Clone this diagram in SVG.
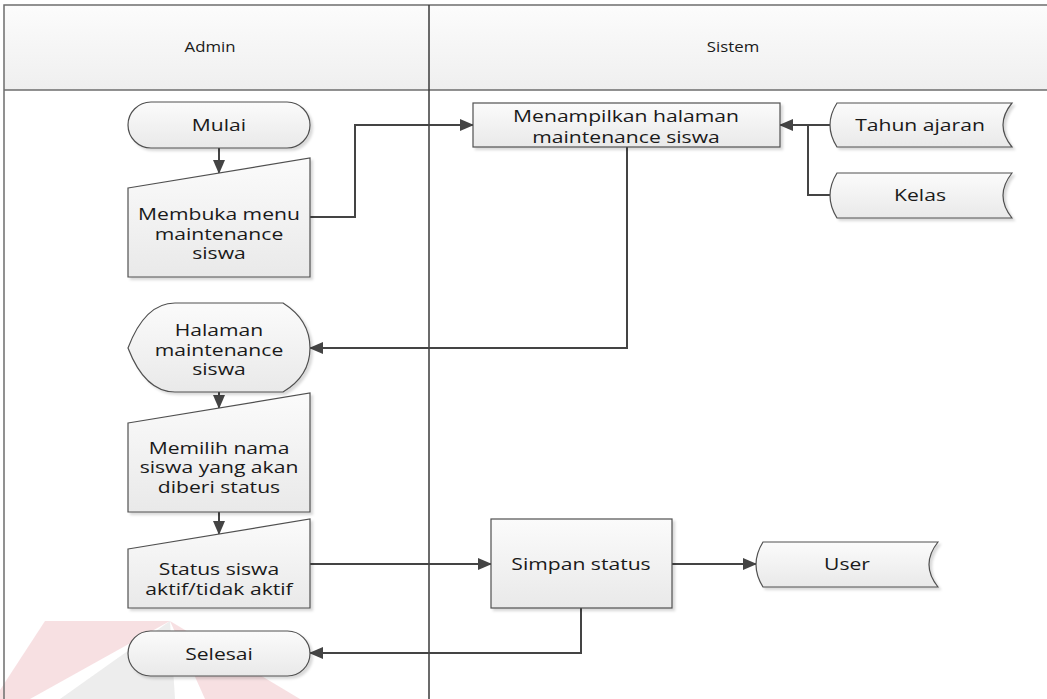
<svg xmlns="http://www.w3.org/2000/svg" width="1047" height="699" viewBox="0 0 1047 699">
<style>
.lane{fill:none;stroke:#6e6e6e;stroke-width:1.5}
.div{stroke:#3a3a3a;stroke-width:1.5}
.shape{fill:url(#g);stroke:#505050;stroke-width:1.2;filter:url(#sh)}
.t{font-family:"Open Sans","Noto Sans",sans-serif;font-size:16.5px;fill:#1a1a1a;text-anchor:middle}
.h{font-family:"Open Sans","Noto Sans",sans-serif;font-size:15px;fill:#1a1a1a;text-anchor:middle}
.c{fill:none;stroke:#444;stroke-width:2}
</style>
<defs>
<linearGradient id="g" x1="0" y1="0" x2="0" y2="1">
<stop offset="0" stop-color="#fbfbfb"/>
<stop offset="1" stop-color="#e9e9e9"/>
</linearGradient>
<linearGradient id="hg" x1="0" y1="0" x2="0" y2="1">
<stop offset="0" stop-color="#fcfcfc"/>
<stop offset="1" stop-color="#efefef"/>
</linearGradient>
<filter id="sh" x="-10%" y="-10%" width="130%" height="130%">
<feDropShadow dx="2.5" dy="2.5" stdDeviation="1" flood-color="#000" flood-opacity="0.15"/>
</filter>
<marker id="ar" markerWidth="14" markerHeight="12" refX="13" refY="6" orient="auto" markerUnits="userSpaceOnUse">
<path d="M0,0 L14,6 L0,12 Z" fill="#444"/>
</marker>
</defs>
<rect width="1047" height="699" fill="#fff"/>
<g id="watermark" opacity="0.55">
<polygon points="45,621 170,621 30,699 0,699 0,690" fill="#e8a0a8" opacity="0.6"/>
<polygon points="170,621 60,699 175,699" fill="#c8c8c8" opacity="0.6"/>
<polygon points="170,621 205,699 300,699" fill="#e8a0a8" opacity="0.6"/>
</g>
<g id="lanes">
<rect x="4" y="5" width="1060" height="85" fill="url(#hg)"/>
<path class="lane" d="M4,699 V5 H1047 M4,90 H1047"/>
<line class="div" x1="429" y1="5" x2="429" y2="699"/>
<text class="h" transform="translate(210,52) scale(1.12,1)">Admin</text>
<text class="h" transform="translate(733,52) scale(1.12,1)">Sistem</text>
</g>
<g id="connectors">
<path class="c" d="M219,148 V173" marker-end="url(#ar)"/>
<path class="c" d="M310,217 H355 V125 H473" marker-end="url(#ar)"/>
<path class="c" d="M830,125 H780" marker-end="url(#ar)"/>
<path class="c" d="M830,195 H808 V125"/>
<path class="c" d="M627,147 V348 H310" marker-end="url(#ar)"/>
<path class="c" d="M219,392 V408" marker-end="url(#ar)"/>
<path class="c" d="M219,512 V534" marker-end="url(#ar)"/>
<path class="c" d="M310,564 H491" marker-end="url(#ar)"/>
<path class="c" d="M672,564 H756" marker-end="url(#ar)"/>
<path class="c" d="M581,608 V653 H310" marker-end="url(#ar)"/>
</g>
<g id="mulai">
<rect class="shape" x="128" y="102" width="182" height="46" rx="23"/>
<text class="t" transform="translate(219,131) scale(1.28,1)">Mulai</text>
</g>
<g id="membuka">
<polygon class="shape" points="128,188 310,158 310,277 128,277"/>
<text class="t" transform="translate(219,220) scale(1.28,1)"><tspan x="0">Membuka menu</tspan><tspan x="0" dy="20">maintenance</tspan><tspan x="0" dy="19">siswa</tspan></text>
</g>
<g id="menampilkan">
<rect class="shape" x="473" y="103" width="307" height="44"/>
<text class="t" transform="translate(626,122) scale(1.28,1)"><tspan x="0">Menampilkan halaman</tspan><tspan x="0" dy="21">maintenance siswa</tspan></text>
</g>
<g id="tahun">
<path class="shape" d="M837,103 H1012 Q994,125 1012,147 H837 Q823,125 837,103 Z"/>
<text class="t" transform="translate(920,131) scale(1.28,1)">Tahun ajaran</text>
</g>
<g id="kelas">
<path class="shape" d="M837,173 H1012 Q994,195.5 1012,218 H837 Q823,195.5 837,173 Z"/>
<text class="t" transform="translate(920,201) scale(1.28,1)">Kelas</text>
</g>
<g id="halaman">
<path class="shape" d="M128,348 Q145,303 175,303 H283 Q310,320 310,348 Q310,376 283,392 H175 Q145,392 128,348 Z"/>
<text class="t" transform="translate(219,336) scale(1.28,1)"><tspan x="0">Halaman</tspan><tspan x="0" dy="20">maintenance</tspan><tspan x="0" dy="19">siswa</tspan></text>
</g>
<g id="memilih">
<polygon class="shape" points="128,423 310,393 310,512 128,512"/>
<text class="t" transform="translate(219,454) scale(1.28,1)"><tspan x="0">Memilih nama</tspan><tspan x="0" dy="19">siswa yang akan</tspan><tspan x="0" dy="20">diberi status</tspan></text>
</g>
<g id="status">
<polygon class="shape" points="128,549 310,519 310,608 128,608"/>
<text class="t" transform="translate(219,575) scale(1.28,1)"><tspan x="0">Status siswa</tspan><tspan x="0" dy="20">aktif/tidak aktif</tspan></text>
</g>
<g id="selesai">
<rect class="shape" x="128" y="631" width="182" height="45" rx="22.5"/>
<text class="t" transform="translate(219,660) scale(1.28,1)">Selesai</text>
</g>
<g id="simpan">
<rect class="shape" x="491" y="519" width="181" height="89"/>
<text class="t" transform="translate(581,570) scale(1.28,1)">Simpan status</text>
</g>
<g id="user">
<path class="shape" d="M763,542 H938 Q920,564.5 938,587 H763 Q749,564.5 763,542 Z"/>
<text class="t" transform="translate(847,570) scale(1.28,1)">User</text>
</g>
</svg>
